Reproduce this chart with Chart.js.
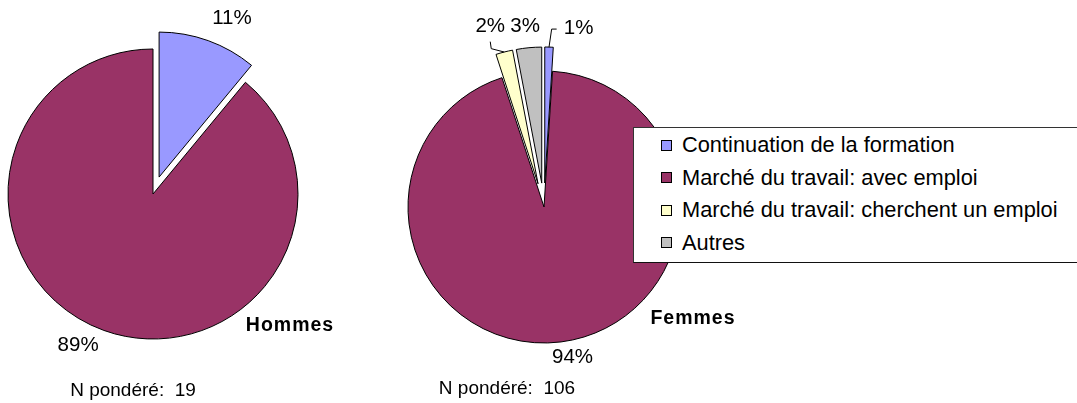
<!DOCTYPE html>
<html>
<head>
<meta charset="utf-8">
<script src="https://cdn.jsdelivr.net/npm/chart.js@4.4.1/dist/chart.umd.min.js"></script>
<style>
  html, body { margin: 0; padding: 0; background: #fff; overflow: hidden; }
  #wrap { position: relative; width: 1077px; height: 403px; }
  canvas { position: absolute; left: 0; top: 0; }
  #legend {
    position: absolute; left: 633px; top: 127px; width: 460px; height: 134px;
    border: 1px solid #333; border-bottom-color: #111; background: #fff;
    font: 21.8px 'Liberation Sans', Arial, sans-serif; color: #000;
  }
  #legend .item { position: absolute; left: 27px; height: 32px; display: flex; align-items: center; white-space: nowrap; }
  #legend .swatch { width: 9px; height: 9px; border: 1px solid #000; margin-right: 10px; }
</style>
</head>
<body>
<div id="wrap">
  <canvas id="hommes" width="1077" height="403"></canvas>
  <canvas id="femmes" width="1077" height="403"></canvas>
  <div id="legend"></div>
</div>
<script>
// categories shared by both pies
const categories = [
  'Continuation de la formation',
  'Marché du travail: avec emploi',
  'Marché du travail: cherchent un emploi',
  'Autres'
];
const groups = ['Hommes', 'Femmes'];
const hommesValues = [11, 89, 0, 0];
const femmesValues = [1, 94, 2, 3];
const weightedN = [19, 106];

const sliceColors = ['#9999ff', '#993366', '#ffffcc', '#c0c0c0'];

// moves exploded slices out along their middle angle, then writes the % labels
const pieLabels = {
  id: 'pieLabels',
  afterDatasetUpdate(chart, args) {
    const shift = chart.data.datasets[args.index].explode || [];
    args.meta.data.forEach((arc, i) => {
      const d = shift[i] || 0;
      if (!d) return;
      const mid = (arc.startAngle + arc.endAngle) / 2;
      arc.x += Math.cos(mid) * d;
      arc.y += Math.sin(mid) * d;
    });
  },
  afterDraw(chart, args, opts) {
    const ctx = chart.ctx;
    const ds = chart.data.datasets[0];
    const meta = chart.getDatasetMeta(0);
    ctx.save();
    ctx.fillStyle = '#000';
    ctx.strokeStyle = '#000';
    ctx.lineWidth = 1;
    ctx.textAlign = 'center';
    ctx.textBaseline = 'middle';
    ctx.font = "20.5px 'Liberation Sans', Arial, sans-serif";
    meta.data.forEach((arc, i) => {
      const v = ds.data[i];
      if (!v) return;
      const mid = (arc.startAngle + arc.endAngle) / 2;
      const ax = arc.x + Math.cos(mid) * arc.outerRadius;
      const ay = arc.y + Math.sin(mid) * arc.outerRadius;
      const n = opts.nudge[i] || [0, 0];
      const lx = ax + Math.cos(mid) * 20 + n[0];
      const ly = ay + Math.sin(mid) * 20 + n[1];
      ctx.fillText(v + '%', lx, ly);
      const leader = opts.leaders && opts.leaders[i];
      if (leader) {
        ctx.beginPath();
        ctx.moveTo(ax, ay);
        leader.forEach(p => ctx.lineTo(lx + p[0], ly + p[1]));
        ctx.stroke();
      }
    });
    ctx.font = "bold 19.5px 'Liberation Sans', Arial, sans-serif";
    ctx.letterSpacing = '1px';
    ctx.fillText(opts.caption.text, opts.caption.x, opts.caption.y);
    ctx.letterSpacing = '0px';
    ctx.font = "19px 'Liberation Sans', Arial, sans-serif";
    ctx.fillText(opts.note.text, opts.note.x, opts.note.y);
    ctx.restore();
  }
};

function makePie(id, values, explode, radius, padding, labelOpts) {
  return new Chart(document.getElementById(id), {
    type: 'pie',
    data: {
      labels: categories,
      datasets: [{
        data: values,
        explode: explode,
        radius: radius,
        backgroundColor: sliceColors,
        borderColor: '#000',
        borderWidth: 1,
        borderJoinStyle: 'miter'
      }]
    },
    options: {
      responsive: false,
      animation: false,
      layout: { padding: padding },
      plugins: {
        legend: { display: false },
        tooltip: { enabled: false },
        pieLabels: labelOpts
      }
    },
    plugins: [pieLabels]
  });
}

makePie('hommes', hommesValues, [18, 0, 0, 0], 145,
  { left: 0, right: 771, top: 0, bottom: 15 },
  {
    nudge: [[17, -3], [-19, -4]],
    caption: { text: groups[0], x: 290, y: 326 },
    note: { text: 'N pondéré:  ' + weightedN[0], x: 133, y: 391 }
  });

makePie('femmes', femmesValues, [24, 0, 24, 24], 136,
  { left: 344, right: 333, top: 11, bottom: 0 },
  {
    nudge: [[29, 1], [9, -4], [-9, -6], [-2, -1]],
    leaders: [[[-27, 1], [-22, 1]], null, [[1, 22], [0, 15]], null],
    caption: { text: groups[1], x: 693, y: 319 },
    note: { text: 'N pondéré:  ' + weightedN[1], x: 507, y: 389 }
  });

// legend box drawn next to the second pie
const legend = document.getElementById('legend');
categories.forEach((name, i) => {
  const row = document.createElement('div');
  row.className = 'item';
  row.style.top = (1 + i * 32.5) + 'px';
  const sw = document.createElement('span');
  sw.className = 'swatch';
  sw.style.background = sliceColors[i];
  row.appendChild(sw);
  row.appendChild(document.createTextNode(name));
  legend.appendChild(row);
});
</script>
</body>
</html>
